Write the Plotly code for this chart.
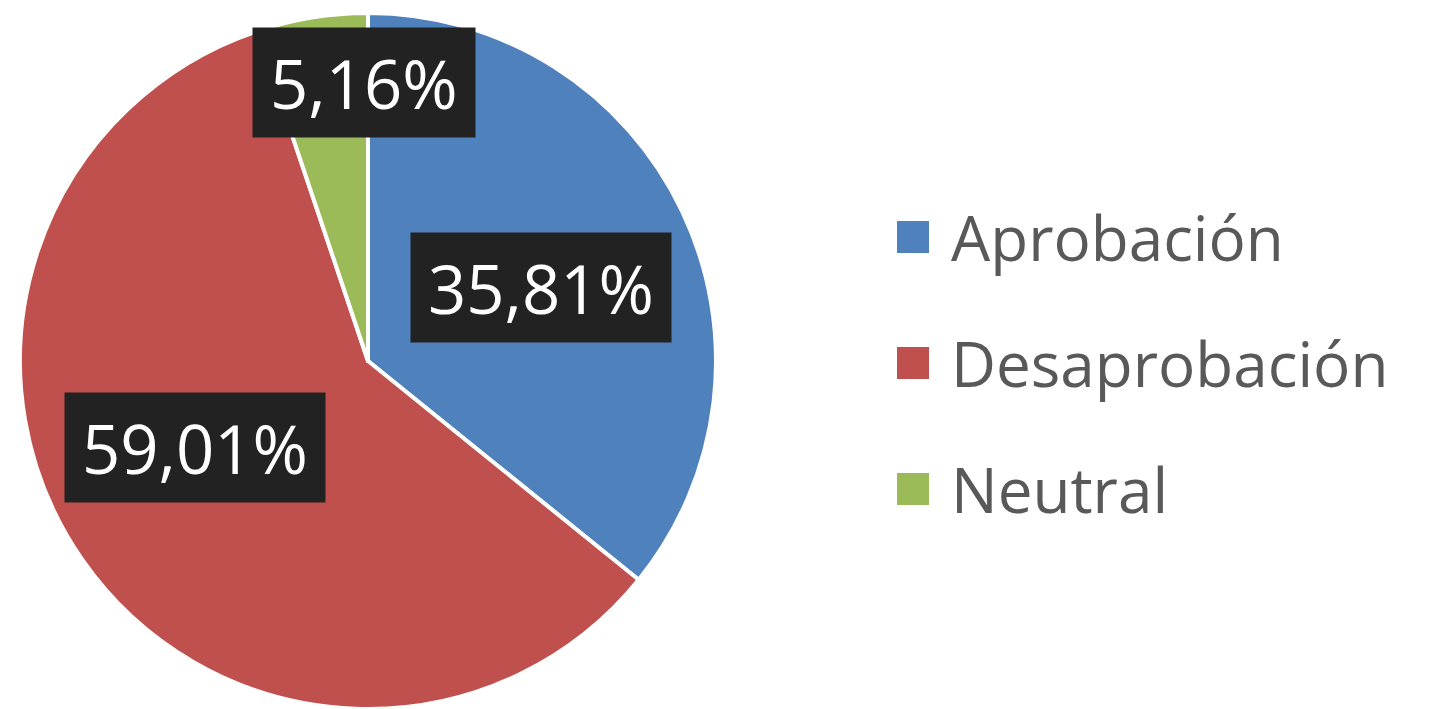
import math
import plotly.graph_objects as go

# ---- data ----
categories = ["Aprobación", "Desaprobación", "Neutral"]
values = [35.81, 59.01, 5.16]

# ---- style ----
colors = ["#4F81BD", "#C0504D", "#9BBB59"]
W, H = 1430, 709
CX, CY, R = 368, 361, 348          # pie centre / radius in px
label_radius = [0.54, 0.555, 0.80]  # fraction of radius for label boxes
label_nudge = [2.5, 8.1, 8.5]       # angular nudge (deg) from slice mid-angle
label_font = dict(family="Open Sans", size=67, color="white")
legend_font = dict(family="Open Sans", size=62, color="#595959")
legend_x0, legend_y0, legend_dy, sq = 897, 237, 126, 32

fig = go.Figure()
fig.add_trace(go.Pie(
    labels=categories, values=values, sort=False, direction="clockwise",
    rotation=0, textinfo="none", hoverinfo="label+percent",
    marker=dict(colors=colors, line=dict(color="white", width=4)),
    domain=dict(x=[(CX - R) / W, (CX + R) / W], y=[(H - CY - R) / H, (H - CY + R) / H]),
    showlegend=False,
))

annotations = []
shapes = []
total = sum(values)
start = 0.0
for i, v in enumerate(values):
    ang = start + v / total * 360 / 2 + label_nudge[i]
    start += v / total * 360
    rr = label_radius[i] * R
    px = CX + rr * math.sin(math.radians(ang))
    py = CY - rr * math.cos(math.radians(ang))
    txt = f"{v:.2f}".replace(".", ",") + "%"
    annotations.append(dict(
        x=px / W, y=1 - py / H, xref="paper", yref="paper", text=txt,
        showarrow=False, font=label_font, bgcolor="#222222",
        borderpad=17, height=75, xanchor="center", yanchor="middle",
    ))

for i, name in enumerate(categories):
    yc = legend_y0 + i * legend_dy
    shapes.append(dict(
        type="rect", xref="paper", yref="paper",
        x0=legend_x0 / W, x1=(legend_x0 + sq) / W,
        y0=1 - (yc + sq / 2) / H, y1=1 - (yc - sq / 2) / H,
        fillcolor=colors[i], line=dict(width=0),
    ))
    annotations.append(dict(
        x=(legend_x0 + sq + 20) / W, y=1 - yc / H, xref="paper", yref="paper",
        text=name, showarrow=False, font=legend_font,
        xanchor="left", yanchor="middle",
    ))

fig.update_layout(
    width=W, height=H, margin=dict(l=0, r=0, t=0, b=0),
    paper_bgcolor="white", plot_bgcolor="white",
    showlegend=False, annotations=annotations, shapes=shapes,
)
fig.write_html(
    "out.html",
    config={"displayModeBar": False},
    post_script="document.body.style.margin='0';document.body.style.overflow='hidden';",
)
